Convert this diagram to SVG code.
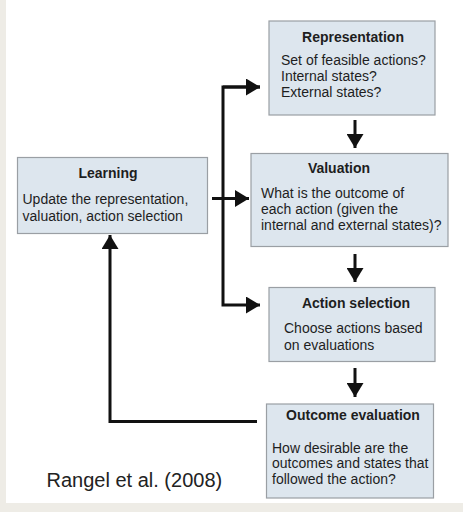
<svg xmlns="http://www.w3.org/2000/svg" width="463" height="512" viewBox="0 0 463 512">
<style>
.box{fill:#dde6ee;stroke:#9a9fa4;stroke-width:1.2}
.t{font-family:"Liberation Sans",Arial,sans-serif;font-size:14px;fill:#1e1e1e}
.b{font-weight:bold;text-anchor:middle}
.c{fill:none;stroke:#111;stroke-width:3}
</style>
<defs>
<marker id="ah" markerWidth="14" markerHeight="17" refX="14" refY="8.5" orient="auto" markerUnits="userSpaceOnUse">
<path d="M0,0 L14,8.5 L0,17 Z" fill="#111"/>
</marker>
</defs>
<rect x="0" y="0" width="463" height="512" fill="#ffffff"/>
<rect x="0" y="0" width="6" height="512" fill="#eeece6"/>
<rect x="0" y="503" width="463" height="9" fill="#eeece6"/>
<g id="connectors">
<polyline class="c" points="260,87 223,87 223,305 260,305" marker-end="url(#ah)" marker-start="none"/>
<line class="c" x1="223" y1="87" x2="260" y2="87" marker-end="url(#ah)"/>
<line class="c" x1="212" y1="198.5" x2="249" y2="198.5" marker-end="url(#ah)"/>
<line class="c" x1="355" y1="120" x2="355" y2="148" marker-end="url(#ah)"/>
<line class="c" x1="355" y1="254" x2="355" y2="282" marker-end="url(#ah)"/>
<line class="c" x1="355" y1="368" x2="355" y2="397" marker-end="url(#ah)"/>
<polyline class="c" points="257,421.5 110,421.5 110,235" marker-end="url(#ah)"/>
</g>
<g id="representation">
<rect class="box" x="269" y="21" width="166" height="94"/>
<text class="t b" x="353" y="42">Representation</text>
<text class="t" x="281" y="65">Set of feasible actions?</text>
<text class="t" x="281" y="81">Internal states?</text>
<text class="t" x="281" y="97">External states?</text>
</g>
<g id="valuation">
<rect class="box" x="251" y="153.5" width="197" height="93"/>
<text class="t b" x="339" y="173">Valuation</text>
<text class="t" x="261" y="197.5">What is the outcome of</text>
<text class="t" x="261" y="213.5">each action (given the</text>
<text class="t" x="261" y="230">internal and external states)?</text>
</g>
<g id="learning">
<rect class="box" x="17.5" y="157.5" width="190" height="76"/>
<text class="t b" x="108" y="177.5">Learning</text>
<text class="t" x="22.5" y="204">Update the representation,</text>
<text class="t" x="22.5" y="221">valuation, action selection</text>
</g>
<g id="action-selection">
<rect class="box" x="269" y="287.5" width="166" height="74"/>
<text class="t b" x="356" y="308">Action selection</text>
<text class="t" x="284" y="333">Choose actions based</text>
<text class="t" x="284" y="350">on evaluations</text>
</g>
<g id="outcome-evaluation">
<rect class="box" x="266.5" y="404" width="167" height="94"/>
<text class="t b" x="353" y="420">Outcome evaluation</text>
<text class="t" x="272" y="452.5">How desirable are the</text>
<text class="t" x="272" y="468">outcomes and states that</text>
<text class="t" x="272" y="484">followed the action?</text>
</g>
<text x="46.5" y="487" font-family="Liberation Sans, Arial, sans-serif" font-size="20" fill="#222">Rangel et al. (2008)</text>
</svg>
